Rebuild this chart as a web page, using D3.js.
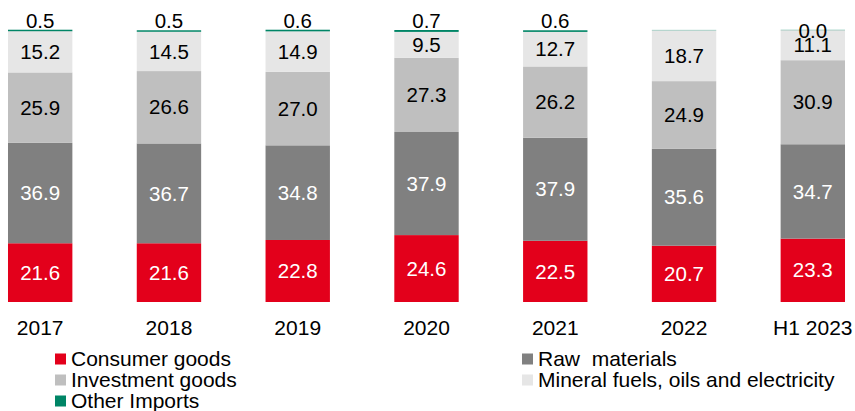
<!DOCTYPE html>
<html><head><meta charset="utf-8">
<script src="https://cdn.jsdelivr.net/npm/d3@7"></script>
<style>body{margin:0;background:#fff}svg{display:block;font-family:"Liberation Sans",Arial,sans-serif}</style>
</head><body><svg id="c" width="855" height="411"></svg>
<script>
const categories = ["2017","2018","2019","2020","2021","2022","H1 2023"];
const consumerGoods = [21.6,21.6,22.8,24.6,22.5,20.7,23.3];
const rawMaterials  = [36.9,36.7,34.8,37.9,37.9,35.6,34.7];
const investmentGoods = [25.9,26.6,27.0,27.3,26.2,24.9,30.9];
const mineralFuels  = [15.2,14.5,14.9,9.5,12.7,18.7,11.1];
const otherImports  = [0.5,0.5,0.6,0.7,0.6,null,0.0];

const series = [
  {key:"consumer", name:"Consumer goods", values:consumerGoods, color:"#E3001B", text:"#fff"},
  {key:"raw", name:"Raw  materials", values:rawMaterials, color:"#808080", text:"#fff"},
  {key:"invest", name:"Investment goods", values:investmentGoods, color:"#BFBFBF", text:"#000"},
  {key:"fuel", name:"Mineral fuels, oils and electricity", values:mineralFuels, color:"#E6E6E6", text:"#000"},
  {key:"other", name:"Other Imports", values:otherImports, color:"#008566", text:"#000"}
];

const svg = d3.select("#c");
const x = d3.scaleBand().domain(categories).range([-24.2, 877.2]).paddingInner(0.5).paddingOuter(0.25);
const y = d3.scaleLinear().domain([0,100]).range([302,30]);

categories.forEach((cat,i)=>{
  let base = 0;
  series.forEach(s=>{
    const v = s.values[i];
    const val = v == null ? 0 : v;
    const y0 = y(base), y1 = y(base+val);
    if (s.key === "other") {
      if (val > 0) {
        svg.append("rect").attr("x",x(cat)).attr("width",x.bandwidth())
          .attr("y",y1).attr("height",Math.max(y0-y1,1.5)).attr("fill",s.color);
      } else {
        svg.append("rect").attr("x",x(cat)).attr("width",x.bandwidth())
          .attr("y",y0-0.5).attr("height",1).attr("fill",s.color).attr("opacity",0.3);
      }
      if (v != null) {
        const ty = val > 0 ? y1 - 9 : y0 + 1;
        svg.append("text").attr("x",x(cat)+x.bandwidth()/2).attr("y",ty)
          .attr("text-anchor","middle").attr("dy","0.35em")
          .style("font-size","20.5px").attr("fill",s.text).text(d3.format(".1f")(v));
      }
    } else {
      svg.append("rect").attr("x",x(cat)).attr("width",x.bandwidth())
        .attr("y",y1).attr("height",y0-y1).attr("fill",s.color);
      svg.append("text").attr("x",x(cat)+x.bandwidth()/2).attr("y",(y0+y1)/2)
        .attr("text-anchor","middle").attr("dy","0.35em")
        .style("font-size","20.5px").attr("fill",s.text).text(d3.format(".1f")(v));
    }
    base += val;
  });
});

// category axis
const xAxis = svg.append("g").attr("transform","translate(0,302)")
  .call(d3.axisBottom(x).tickSize(0).tickPadding(0));
xAxis.select(".domain").remove();
xAxis.selectAll("text").attr("dy",null).attr("y",33).style("font-size","21px")
  .style("font-family","'Liberation Sans',Arial,sans-serif").attr("fill","#000");

// legend
const legendItems = [
  {s:series[0], x:55, row:0},
  {s:series[2], x:55, row:1},
  {s:series[4], x:55, row:2},
  {s:series[1], x:522, row:0},
  {s:series[3], x:522, row:1}
];
legendItems.forEach(it=>{
  const cy = 359 + it.row*21;
  svg.append("rect").attr("x",it.x).attr("y",cy-5.5).attr("width",11).attr("height",11).attr("fill",it.s.color);
  svg.append("text").attr("x",it.x+16).attr("y",cy).attr("dy","0.35em")
    .style("font-size","21px").style("white-space","pre").attr("fill","#000").text(it.s.name);
});
</script></body></html>
